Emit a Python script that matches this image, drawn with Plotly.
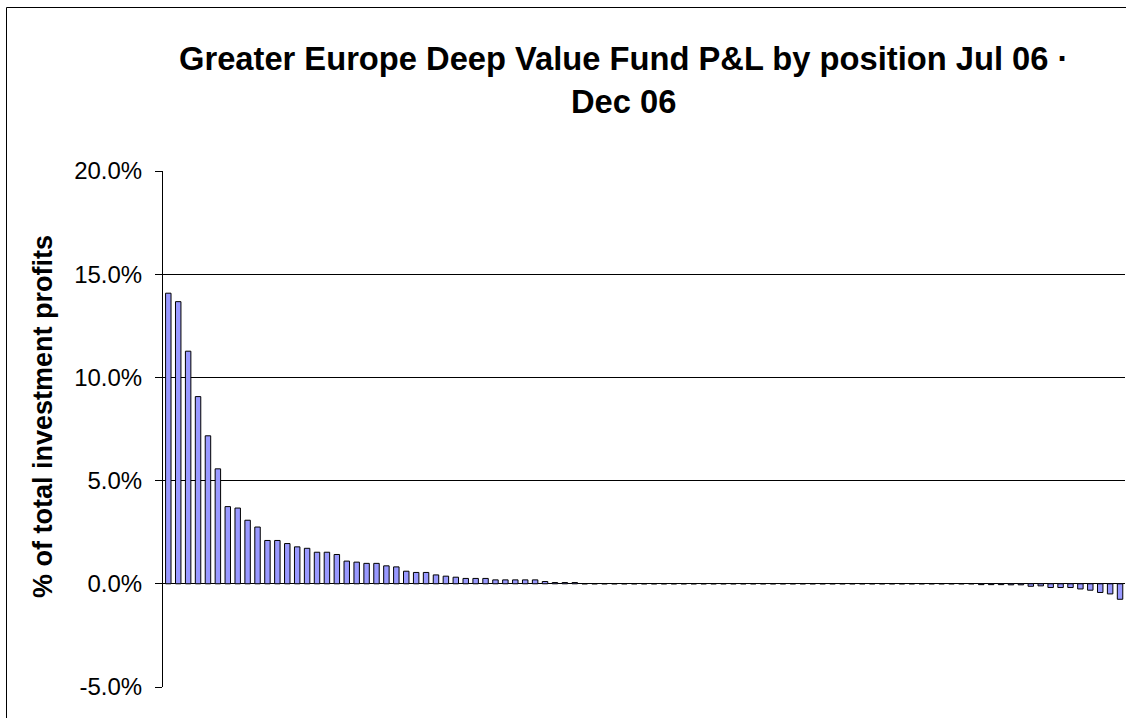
import plotly.graph_objects as go

# Data (percent of total investment profits, by position, sorted)
positive_vals = [14.08, 13.67, 11.27, 9.07, 7.17, 5.57, 3.74, 3.67, 3.08, 2.75,
                 2.10, 2.10, 1.95, 1.79, 1.72, 1.53, 1.53, 1.42, 1.10, 1.05,
                 0.99, 0.99, 0.87, 0.82, 0.61, 0.55, 0.55, 0.43, 0.37, 0.32,
                 0.26, 0.26, 0.26, 0.19, 0.19, 0.19, 0.19, 0.19, 0.11, 0.06,
                 0.06, 0.06]
flat_vals = [0.0] * 40
negative_vals = [-0.04, -0.04, -0.04, -0.05, -0.05, -0.12, -0.10, -0.18, -0.18, -0.18,
                 -0.25, -0.31, -0.42, -0.49, -0.75]
values_pct = positive_vals + flat_vals + negative_vals
positions = list(range(1, len(values_pct) + 1))
values = [v / 100 for v in values_pct]

y_ticks = [-0.05, 0.0, 0.05, 0.10, 0.15, 0.20]
y_ticktext = ["%.1f%%" % (t * 100) for t in y_ticks]

title_lines = ["Greater Europe Deep Value Fund P&L by position Jul 06 ·", "Dec 06"]
ylabel_text = "% of total investment profits"

W, H = 1127, 718
ML, MR, MT, MB = 163, 2, 171, 31
PW, PH = W - ML - MR, H - MT - MB

FONT = "Arial, Liberation Sans, sans-serif"

fig = go.Figure()
fig.add_trace(go.Bar(
    x=positions, y=values, width=0.55,
    marker=dict(color="#9999FF", line=dict(color="black", width=1)),
    showlegend=False,
))

def px_x(p):
    return (p - ML) / PW

def px_y(p):
    return (H - MB - p) / PH

title_html = "<br>".join("<b>%s</b>" % s for s in title_lines)

fig.update_layout(
    width=W, height=H,
    margin=dict(l=ML, r=MR, t=MT, b=MB),
    paper_bgcolor="white", plot_bgcolor="white",
    font=dict(family=FONT, color="black"),
    bargap=0.45,
    xaxis=dict(range=[0.465, 97.5], showticklabels=False, showgrid=False,
               zeroline=False, showline=False, ticks=""),
    yaxis=dict(range=[-0.05, 0.20], tickvals=y_ticks, ticktext=y_ticktext,
               showgrid=True, gridcolor="black", gridwidth=1,
               zeroline=True, zerolinecolor="black", zerolinewidth=1,
               showline=True, linecolor="black", linewidth=1,
               ticks="outside", ticklen=7, tickcolor="black",
               tickfont=dict(size=24, family=FONT), ticklabelstandoff=8),
    annotations=[
        dict(text=title_html,
             x=px_x(623), y=px_y(38), xref="paper", yref="paper",
             showarrow=False, xanchor="center", yanchor="top", align="center",
             font=dict(size=32.7, family=FONT, color="black")),
        dict(text="<b>" + ylabel_text + "</b>", x=px_x(43), y=px_y(417),
             xref="paper", yref="paper", showarrow=False, textangle=-90,
             xanchor="center", yanchor="middle",
             font=dict(size=27, family=FONT, color="black")),
    ],
    shapes=[
        dict(type="line", xref="paper", yref="paper", x0=px_x(6.5), x1=px_x(6.5),
             y0=px_y(7.5), y1=px_y(730), line=dict(color="black", width=1)),
        dict(type="line", xref="paper", yref="paper", x0=px_x(6.5), x1=px_x(1126),
             y0=px_y(7.5), y1=px_y(7.5), line=dict(color="black", width=1)),
    ],
)

fig.write_html("out.html", config={"displayModeBar": False},
               post_script="document.body.style.margin='0';document.body.style.overflow='hidden';")
